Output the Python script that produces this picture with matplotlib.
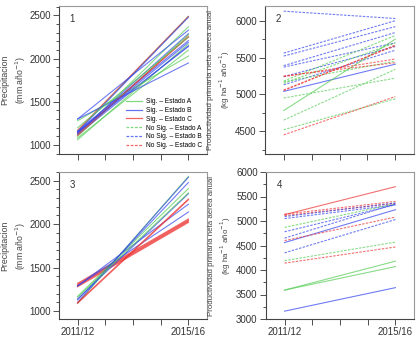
import matplotlib
matplotlib.use("Agg")
import matplotlib.pyplot as plt
from matplotlib.ticker import MultipleLocator
from matplotlib.lines import Line2D

plt.rcParams['font.family'] = ['Liberation Sans', 'DejaVu Sans']

years = ["2011/12", "2012/13", "2013/14", "2014/15", "2015/16"]
xlabels_shown = ["2011/12", "", "", "", "2015/16"]

# Each series: (start 2011/12, end 2015/16, estado, significant)
panel1_start = [1160, 1170, 1150, 1120, 1300, 1140, 1100, 1130, 1160, 1060, 1120, 1150, 1080, 1280, 1300, 1110, 1200, 1140]
panel1_end   = [2490, 2490, 2480, 2370, 2330, 2290, 2280, 2250, 2210, 2170, 2150, 2140, 2100, 2030, 1950, 2260, 2250, 2190]
panel1_state = ["A", "C", "B", "A", "B", "B", "A", "C", "B", "A", "B", "B", "A", "A", "B", "C", "A", "B"]
panel1_sig   = [True] * 18

panel2_start = [6130, 5560, 5520, 5390, 5370, 5240, 5130, 5040, 4780, 5180, 5150, 5170, 4950, 4650, 4520, 4450, 5240, 5050, 5250, 5060]
panel2_end   = [6030, 6000, 5920, 5840, 5700, 5650, 5600, 5410, 5750, 5800, 5700, 5450, 5220, 5340, 4940, 4970, 5480, 5670, 5430, 5660]
panel2_state = ["B", "B", "B", "B", "B", "B", "B", "B", "A", "A", "A", "A", "A", "A", "A", "C", "C", "C", "C", "C"]
panel2_sig   = [False, False, False, False, False, False, False, True, True, False, False, False, False, False, False, False, False, False, False, False]

panel3_start = [1290, 1300, 1310, 1320, 1280, 1290, 1290, 1140, 1170, 1090, 1100, 1130, 1100, 1160, 1090]
panel3_end   = [2030, 2040, 2050, 2060, 2020, 2140, 2230, 2350, 2410, 2550, 2540, 2480, 2290, 2360, 2280]
panel3_state = ["C", "C", "C", "C", "C", "B", "B", "B", "A", "A", "B", "B", "C", "A", "C"]
panel3_sig   = [True] * 15

panel4_start = [5130, 5140, 5110, 5090, 5050, 4870, 4780, 4650, 4560, 4600, 4350, 4190, 4140, 3590, 3590, 3160]
panel4_end   = [5700, 5400, 5360, 5370, 5330, 5350, 5330, 5350, 5230, 5080, 5030, 4570, 4470, 4180, 4070, 3640]
panel4_state = ["C", "C", "C", "B", "B", "A", "B", "B", "B", "C", "B", "A", "C", "A", "A", "B"]
panel4_sig   = [True, False, False, False, False, False, False, False, True, False, False, False, False, True, True, True]

legend_labels = ["Sig. \u2013 Estado A", "Sig. \u2013 Estado B", "Sig. \u2013 Estado C",
                 "No Sig. \u2013 Estado A", "No Sig. \u2013 Estado B", "No Sig. \u2013 Estado C"]

colors = {"A": "#55cc55", "B": "#3344ee", "C": "#ee3333"}
dash = (0, (2.2, 1.2))

fig = plt.figure(figsize=(4.2, 3.42), dpi=100)
W, H = 420, 342
def box(l, r, t, b):
    return [l / W, 1 - b / H, (r - l) / W, (b - t) / H]

ax1 = fig.add_axes(box(59, 207, 6, 154))
ax2 = fig.add_axes(box(265, 414, 6, 154))
ax3 = fig.add_axes(box(59, 207, 172, 319))
ax4 = fig.add_axes(box(266, 414, 172, 319))

panels = [
    (ax1, panel1_start, panel1_end, panel1_state, panel1_sig, (895, 2610), 500, 100, "1"),
    (ax2, panel2_start, panel2_end, panel2_state, panel2_sig, (4190, 6200), 500, 250, "2"),
    (ax3, panel3_start, panel3_end, panel3_state, panel3_sig, (910, 2600), 500, 100, "3"),
    (ax4, panel4_start, panel4_end, panel4_state, panel4_sig, (3000, 6000), 500, 250, "4"),
]

ylab_prec = "Precipitacion\n(mm a\u00f1o$^{-1}$)"
ylab_prod = "Productividad primaria neta aerea anual\n(kg ha$^{-1}$ a\u00f1o$^{-1}$)"

for i, (ax, s, e, st, sg, ylim, maj, mnr, num) in enumerate(panels):
    for a, b, state, sig in zip(s, e, st, sg):
        ax.plot([0, 4], [a, b], color=colors[state], lw=0.8, alpha=0.7,
                linestyle='-' if sig else dash)
    ax.set_xlim(-0.67, 4.67)
    ax.set_ylim(*ylim)
    ax.set_xticks(range(len(years)))
    if i >= 2:
        ax.set_xticklabels(xlabels_shown, fontsize=7)
    else:
        ax.set_xticklabels([])
    ax.yaxis.set_major_locator(MultipleLocator(maj))
    ax.yaxis.set_minor_locator(MultipleLocator(mnr))
    ax.tick_params(axis='y', labelsize=7, length=4, width=0.6, colors='#333333', pad=2)
    ax.tick_params(axis='y', which='minor', length=2.5, width=0.6, colors='#333333')
    ax.tick_params(axis='x', length=4, width=0.6, colors='#333333', pad=2)
    for sp in ['left', 'bottom']:
        ax.spines[sp].set_color('#444444')
        ax.spines[sp].set_linewidth(0.8)
    for sp in ['top', 'right']:
        ax.spines[sp].set_color('#999999')
        ax.spines[sp].set_linewidth(0.8)
    ax.text(0.07, 0.89, num, transform=ax.transAxes, fontsize=7, color='#333333')
    if i in (0, 2):
        ax.set_ylabel(ylab_prec, fontsize=6.3, color='#444444', labelpad=1, linespacing=1.35)
    else:
        ax.set_ylabel(ylab_prod, fontsize=5.7, color='#444444', labelpad=2, linespacing=1.4)

handles = []
for k, lab in enumerate(legend_labels):
    state = "ABC"[k % 3]
    ls = '-' if k < 3 else dash
    handles.append(Line2D([0], [0], color=colors[state], lw=0.9, alpha=0.75, linestyle=ls))
ax1.legend(handles, legend_labels, loc='lower right', fontsize=4.8, frameon=False,
           handlelength=2.4, labelspacing=0.28, borderaxespad=0.3, handletextpad=0.6,
           bbox_to_anchor=(1.0, 0.0))

fig.savefig("out.png", dpi=100)
